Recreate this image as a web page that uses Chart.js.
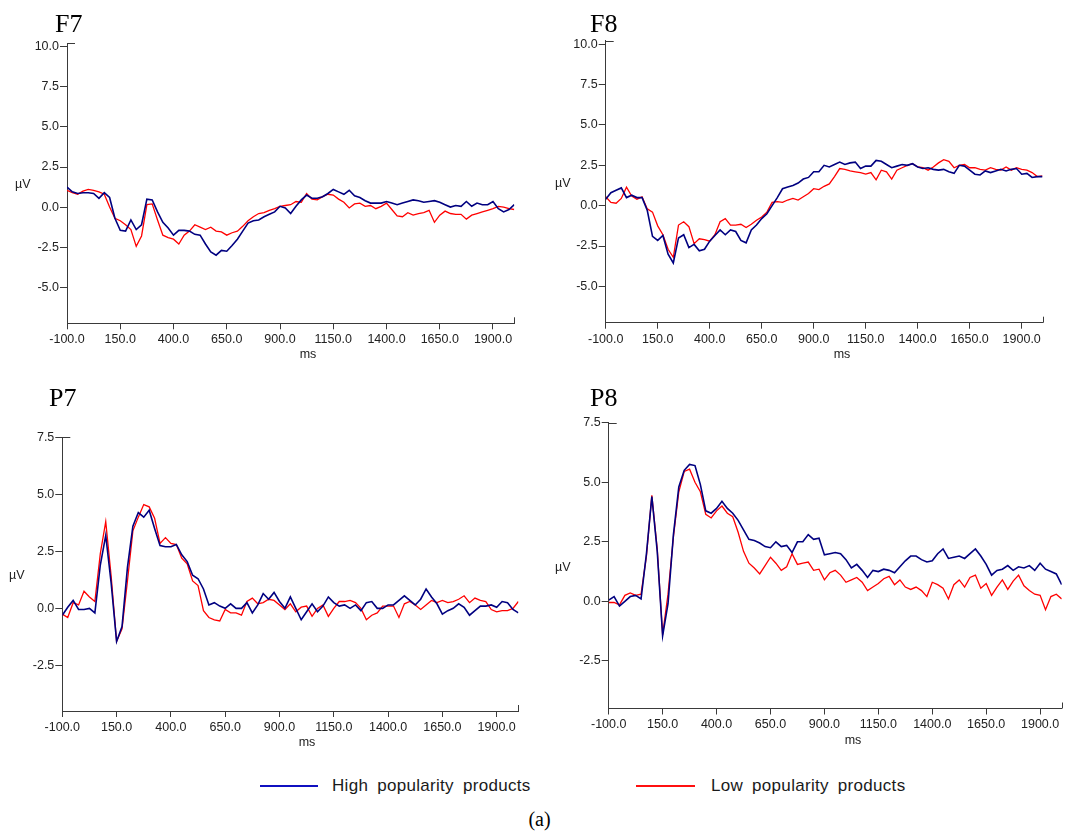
<!DOCTYPE html>
<html>
<head>
<meta charset="utf-8">
<script src="https://cdn.jsdelivr.net/npm/chart.js@4/dist/chart.umd.min.js"></script>
<style>
  body { margin: 0; background: #fff; width: 1079px; height: 832px; position: relative; overflow: hidden; }
  canvas { position: absolute; }
  .lbl { position: absolute; font-family: "Liberation Sans", Arial, sans-serif; font-size: 12.5px; line-height: 12.5px; color: #222; white-space: nowrap; }
  .ttl { position: absolute; font-family: "Liberation Serif", "Times New Roman", serif; font-size: 26px; line-height: 26px; color: #000; }
  .ms { width: 40px; text-align: center; }
  .leg-line { position: absolute; height: 2px; }
  .leg-txt { position: absolute; font-family: "Liberation Sans", Arial, sans-serif; font-size: 17px; line-height: 18px; color: #1a1a1a; letter-spacing: 0.3px; word-spacing: 4px; white-space: nowrap; }
  .cap { position: absolute; left: 0; width: 1079px; top: 807px; text-align: center; font-family: "Liberation Serif", serif; font-size: 20px; line-height: 24px; }
</style>
</head>
<body>
<canvas id="f7" width="540" height="340" style="left:0px;top:30px"></canvas>
<canvas id="f8" width="539" height="340" style="left:540px;top:30px"></canvas>
<canvas id="p7" width="540" height="370" style="left:0px;top:400px"></canvas>
<canvas id="p8" width="539" height="370" style="left:540px;top:400px"></canvas>

<div class="ttl" style="left:55px;top:11px">F7</div>
<div class="ttl" style="left:590px;top:11px">F8</div>
<div class="ttl" style="left:49px;top:385px">P7</div>
<div class="ttl" style="left:590px;top:385px">P8</div>

<div class="lbl" style="left:15px;top:178px">µV</div>
<div class="lbl" style="left:555px;top:177px">µV</div>
<div class="lbl" style="left:9px;top:569px">µV</div>
<div class="lbl" style="left:555px;top:561px">µV</div>

<div class="lbl ms" style="left:288px;top:348px">ms</div>
<div class="lbl ms" style="left:822px;top:348px">ms</div>
<div class="lbl ms" style="left:287px;top:736px">ms</div>
<div class="lbl ms" style="left:833px;top:734px">ms</div>

<div class="leg-line" style="left:260px;top:785px;width:58px;background:#1010c0"></div>
<div class="leg-txt" style="left:332px;top:777px">High popularity products</div>
<div class="leg-line" style="left:636px;top:785px;width:59px;background:#ff1010"></div>
<div class="leg-txt" style="left:711px;top:777px">Low popularity products</div>
<div class="cap">(a)</div>

<script>
// time axis (ms), one sample every 25 ms
const timesMs = [
  -100, -75, -50, -25, 0, 25, 50, 75,
  100, 125, 150, 175, 200, 225, 250, 275,
  300, 325, 350, 375, 400, 425, 450, 475,
  500, 525, 550, 575, 600, 625, 650, 675,
  700, 725, 750, 775, 800, 825, 850, 875,
  900, 925, 950, 975, 1000, 1025, 1050, 1075,
  1100, 1125, 1150, 1175, 1200, 1225, 1250, 1275,
  1300, 1325, 1350, 1375, 1400, 1425, 1450, 1475,
  1500, 1525, 1550, 1575, 1600, 1625, 1650, 1675,
  1700, 1725, 1750, 1775, 1800, 1825, 1850, 1875,
  1900, 1925, 1950, 1975, 2000
];

// µV values
const f7High = [
  1.25, 0.95, 0.85, 0.9, 0.9, 0.85, 0.55, 0.9,
  0.6, -0.7, -1.45, -1.5, -0.8, -1.4, -1.1, 0.5,
  0.45, -0.3, -0.95, -1.3, -1.75, -1.45, -1.45, -1.5,
  -1.7, -1.75, -2.3, -2.8, -3.0, -2.7, -2.75, -2.4,
  -2.0, -1.5, -1.0, -0.85, -0.8, -0.6, -0.45, -0.3,
  0.05, -0.05, -0.4, 0.05, 0.45, 0.75, 0.55, 0.55,
  0.65, 0.85, 1.1, 0.95, 0.8, 1.05, 0.7, 0.6,
  0.4, 0.25, 0.25, 0.25, 0.35, 0.25, 0.15, 0.25,
  0.35, 0.45, 0.4, 0.3, 0.35, 0.4, 0.3, 0.15,
  0.0, 0.1, 0.05, 0.35, 0.05, 0.25, 0.15, 0.15,
  0.35, -0.1, -0.3, -0.15, 0.15
];
const f7Low = [
  1.05, 0.9, 0.8, 1.0, 1.1, 1.05, 0.95, 0.8,
  0.0, -0.7, -0.85, -1.1, -1.4, -2.45, -1.8, 0.15,
  0.2, -0.8, -1.75, -1.9, -2.0, -2.3, -1.75, -1.5,
  -1.1, -1.25, -1.4, -1.25, -1.5, -1.55, -1.75, -1.6,
  -1.5, -1.2, -0.85, -0.6, -0.4, -0.35, -0.2, -0.1,
  0.05, 0.1, 0.15, 0.35, 0.3, 0.85, 0.5, 0.45,
  0.65, 0.8, 0.75, 0.5, 0.3, -0.05, 0.2, 0.25,
  0.05, 0.1, -0.1, 0.05, 0.25, -0.15, -0.55, -0.6,
  -0.35, -0.5, -0.4, -0.35, -0.2, -0.95, -0.5, -0.25,
  -0.4, -0.45, -0.45, -0.75, -0.5, -0.4, -0.3, -0.2,
  -0.1, 0.05, 0.0, -0.1, -0.15
];

const f8High = [
  0.4, 0.8, 0.95, 1.1, 0.5, 0.65, 0.5, 0.5,
  -0.3, -1.9, -2.15, -1.85, -3.0, -3.55, -2.0, -1.8,
  -2.6, -2.4, -2.8, -2.7, -2.2, -1.85, -1.5, -1.8,
  -1.5, -1.6, -2.15, -2.3, -1.5, -1.2, -0.8, -0.5,
  0.0, 0.5, 1.05, 1.15, 1.25, 1.4, 1.65, 1.75,
  2.1, 2.1, 2.5, 2.4, 2.55, 2.7, 2.55, 2.65,
  2.7, 2.3, 2.45, 2.45, 2.8, 2.75, 2.55, 2.35,
  2.45, 2.55, 2.5, 2.6, 2.4, 2.3, 2.35, 2.25,
  2.2, 2.25, 2.1, 2.0, 2.5, 2.45, 2.2, 1.95,
  1.9, 2.15, 2.05, 2.15, 2.25, 2.15, 2.25, 2.3,
  1.95, 2.0, 1.75, 1.8, 1.8
];
const f8Low = [
  0.55, 0.2, 0.15, 0.45, 1.15, 0.6, 0.4, 0.55,
  -0.2, -0.4, -1.25, -1.8, -2.7, -3.2, -1.2, -1.0,
  -1.3, -2.35, -2.05, -2.1, -2.2, -1.8, -1.0, -0.8,
  -1.2, -1.2, -1.15, -1.35, -1.15, -0.9, -0.7, -0.4,
  0.2, 0.25, 0.2, 0.35, 0.45, 0.35, 0.55, 0.75,
  1.05, 1.0, 1.2, 1.35, 1.8, 2.3, 2.25, 2.15,
  2.1, 2.05, 1.95, 2.05, 1.6, 2.2, 2.1, 1.65,
  2.2, 2.35, 2.5, 2.6, 2.4, 2.35, 2.2, 2.4,
  2.65, 2.85, 2.75, 2.35, 2.5, 2.55, 2.35, 2.35,
  2.25, 2.2, 2.35, 2.25, 2.2, 2.4, 2.2, 2.35,
  2.25, 2.2, 2.05, 1.8, 1.85
];

const p7High = [
  -0.3, 0.05, 0.35, -0.05, -0.05, 0.0, -0.2, 1.9,
  3.2, 1.1, -1.45, -0.8, 1.8, 3.6, 4.2, 4.0,
  4.3, 3.5, 2.75, 2.7, 2.7, 2.8, 2.35, 2.05,
  1.45, 1.3, 0.85, 0.15, 0.25, 0.1, 0.0, 0.2,
  0.0, 0.0, 0.25, -0.2, 0.15, 0.65, 0.4, 0.7,
  0.3, 0.0, 0.5, 0.0, -0.5, -0.15, 0.2, -0.15,
  0.1, 0.5, 0.25, 0.1, 0.15, 0.0, 0.15, -0.1,
  0.25, 0.3, 0.0, 0.0, 0.15, 0.15, 0.35, 0.55,
  0.35, 0.15, 0.4, 0.85, 0.5, 0.2, -0.25, -0.1,
  0.0, 0.2, 0.05, -0.3, -0.1, 0.1, 0.1, 0.15,
  0.05, 0.3, 0.25, -0.05, -0.2
];
const p7Low = [
  -0.25, -0.4, 0.25, 0.15, 0.75, 0.5, 0.3, 2.4,
  3.8, 1.4, -1.45, -0.9, 1.2, 3.4, 4.0, 4.55,
  4.45, 3.95, 2.85, 3.1, 2.85, 2.8, 2.2, 1.95,
  1.2, 1.0, -0.1, -0.4, -0.5, -0.55, -0.05, -0.2,
  -0.2, -0.3, 0.3, 0.45, 0.2, 0.25, 0.4, 0.35,
  0.15, -0.05, 0.2, -0.15, 0.05, 0.1, -0.35, 0.0,
  0.15, -0.35, 0.0, 0.3, 0.3, 0.35, 0.25, 0.0,
  -0.5, -0.3, -0.2, 0.1, 0.1, 0.1, -0.4, 0.2,
  0.3, 0.15, -0.05, 0.15, 0.35, 0.25, 0.35, 0.25,
  0.3, 0.4, 0.55, 0.25, 0.45, 0.35, 0.3, -0.05,
  -0.15, -0.1, -0.1, 0.0, 0.3
];

const p8High = [
  0.05, 0.2, -0.2, 0.0, 0.2, 0.25, 0.1, 2.0,
  4.4, 2.1, -1.45, -0.1, 2.8, 4.8, 5.5, 5.75,
  5.7, 4.9, 3.8, 3.7, 3.9, 4.2, 3.9, 3.7,
  3.4, 3.0, 2.6, 2.55, 2.45, 2.3, 2.25, 2.5,
  2.3, 2.35, 2.05, 2.5, 2.5, 2.8, 2.6, 2.65,
  1.95, 2.0, 2.05, 2.0, 1.75, 1.4, 1.55, 1.3,
  1.0, 1.3, 1.25, 1.35, 1.3, 1.2, 1.45, 1.7,
  1.9, 1.9, 1.75, 1.65, 1.7, 2.0, 2.2, 1.8,
  1.85, 1.9, 1.8, 2.0, 2.2, 1.9, 1.55, 1.1,
  1.3, 1.35, 1.5, 1.3, 1.45, 1.4, 1.5, 1.3,
  1.6, 1.35, 1.25, 1.15, 0.7
];
const p8Low = [
  -0.05, -0.05, -0.15, 0.25, 0.35, 0.25, 0.3, 1.9,
  4.45, 2.2, -1.4, 0.3, 2.7, 4.6, 5.45, 5.55,
  5.0, 4.6, 3.65, 3.5, 3.8, 4.0, 3.7, 3.55,
  2.9, 2.1, 1.6, 1.4, 1.15, 1.5, 1.85, 1.6,
  1.3, 1.45, 2.0, 1.55, 1.6, 1.65, 1.3, 1.35,
  0.9, 1.2, 1.3, 1.1, 0.8, 0.9, 1.0, 0.8,
  0.45, 0.6, 0.75, 0.95, 1.05, 0.7, 0.9, 0.6,
  0.5, 0.6, 0.45, 0.2, 0.8, 0.7, 0.55, 0.1,
  0.7, 0.9, 0.6, 1.0, 1.1, 0.55, 0.75, 0.25,
  0.6, 0.9, 0.5, 0.85, 1.1, 0.65, 0.45, 0.3,
  0.25, -0.35, 0.2, 0.3, 0.1
];

// tick labels
const xTicks = [-100, 150, 400, 650, 900, 1150, 1400, 1650, 1900];
const yTicksF = [-5, -2.5, 0, 2.5, 5, 7.5, 10];
const yTicksP = [-2.5, 0, 2.5, 5, 7.5];

const axisColor = '#3a3a3a';
Chart.defaults.font.family = '"Liberation Sans", Arial, sans-serif';
Chart.defaults.font.size = 12.5;
Chart.defaults.color = '#222';

// small corner marks at the top of the y axis and the right end of the x axis
const cornerMarks = {
  id: 'cornerMarks',
  afterDraw(chart) {
    const { left, right, top, bottom } = chart.chartArea;
    const ctx = chart.ctx;
    ctx.save();
    ctx.strokeStyle = axisColor;
    ctx.lineWidth = 1;
    ctx.beginPath();
    ctx.moveTo(left, Math.round(top) + 0.5);
    ctx.lineTo(left + 8, Math.round(top) + 0.5);
    ctx.moveTo(Math.round(right) + 0.5, bottom);
    ctx.lineTo(Math.round(right) + 0.5, bottom - 6);
    ctx.stroke();
    ctx.restore();
  }
};

function toPoints(values) {
  return timesMs.map((t, i) => ({ x: t, y: values[i] }));
}

function makePanel(id, high, low, yMin, yMax, yTicks, box) {
  new Chart(document.getElementById(id), {
    type: 'line',
    data: {
      datasets: [
        { label: 'High popularity products', data: toPoints(high), borderColor: '#000080', borderWidth: 1.6 },
        { label: 'Low popularity products', data: toPoints(low), borderColor: '#ff0000', borderWidth: 1.3 }
      ]
    },
    options: {
      responsive: false,
      animation: false,
      devicePixelRatio: 1,
      layout: { padding: { left: 0, top: box.T, right: box.R, bottom: 0 } },
      elements: { point: { radius: 0 }, line: { tension: 0 } },
      plugins: { legend: { display: false }, tooltip: { enabled: false } },
      scales: {
        x: {
          type: 'linear',
          min: -100,
          max: 2000,
          afterBuildTicks: s => { s.ticks = xTicks.map(v => ({ value: v })); },
          afterFit: s => { s.height = box.B; },
          ticks: { callback: v => v.toFixed(1), autoSkip: false, maxRotation: 0, padding: 3 },
          grid: { drawOnChartArea: false, tickLength: 6, color: axisColor },
          border: { color: axisColor, width: 1 }
        },
        y: {
          min: yMin,
          max: yMax,
          afterBuildTicks: s => { s.ticks = yTicks.map(v => ({ value: v })); },
          afterFit: s => { s.width = box.L; },
          ticks: { callback: v => v.toFixed(1), autoSkip: false, padding: 1 },
          grid: { drawOnChartArea: false, tickLength: 7, color: axisColor },
          border: { color: axisColor, width: 1 }
        }
      }
    },
    plugins: [cornerMarks]
  });
}

makePanel('f7', f7High, f7Low, -7.25, 10.22, yTicksF, { L: 67, T: 13.3, R: 25.7, B: 46.7 });
makePanel('f8', f8High, f8Low, -7.25, 10.22, yTicksF, { L: 65.7, T: 10.7, R: 36.5, B: 47.3 });
makePanel('p7', p7High, p7Low, -4.5, 7.5, yTicksP, { L: 62.3, T: 37.3, R: 21.6, B: 59 });
makePanel('p8', p8High, p8Low, -4.5, 7.5, yTicksP, { L: 68.7, T: 22.7, R: 17.3, B: 61.5 });
</script>
</body>
</html>
